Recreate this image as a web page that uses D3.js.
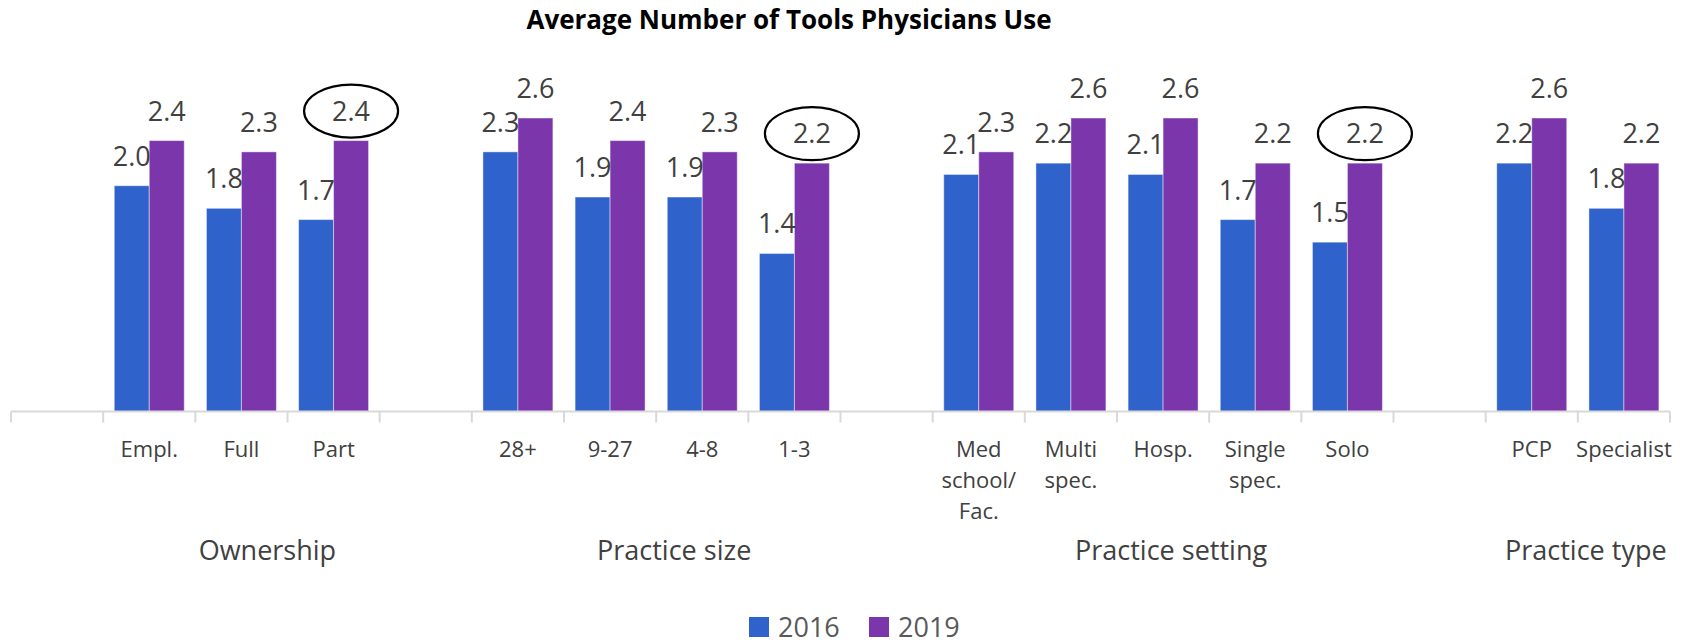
<!DOCTYPE html>
<html>
<head>
<meta charset="utf-8">
<script src="https://cdn.jsdelivr.net/npm/d3@7"></script>
<style>
  html, body { margin: 0; padding: 0; background: #fff; }
  svg { display: block; }
  text { font-family: "Open Sans", "Noto Sans", sans-serif; }
</style>
</head>
<body>
<svg id="chart" width="1693" height="644"></svg>
<script>
// ---- data ----
const title = "Average Number of Tools Physicians Use";
const categories = ["Empl.", "Full", "Part", "28+", "9-27", "4-8", "1-3",
  "Med school/ Fac.", "Multi spec.", "Hosp.", "Single spec.", "Solo", "PCP", "Specialist"];
const categoryLines = [["Empl."], ["Full"], ["Part"], ["28+"], ["9-27"], ["4-8"], ["1-3"],
  ["Med", "school/", "Fac."], ["Multi", "spec."], ["Hosp."], ["Single", "spec."], ["Solo"], ["PCP"], ["Specialist"]];
const groupNames = ["Ownership", "Practice size", "Practice setting", "Practice type"];
const categoryGroup = [0, 0, 0, 1, 1, 1, 1, 2, 2, 2, 2, 2, 3, 3];
const seriesNames = ["2016", "2019"];
const values2016 = [2.0, 1.8, 1.7, 2.3, 1.9, 1.9, 1.4, 2.1, 2.2, 2.1, 1.7, 1.5, 2.2, 1.8];
const values2019 = [2.4, 2.3, 2.4, 2.6, 2.4, 2.3, 2.2, 2.3, 2.6, 2.6, 2.2, 2.2, 2.6, 2.2];
const circled2019 = ["Part", "1-3", "Solo"];

// ---- layout ----
const colors = { "2016": "#2f62ca", "2019": "#7a36aa" };
const textColor = "#404040";
const axisLeft = 11, axisRight = 1670, axisY = 411.5, yTop = 118;
const groupNudge = [26, 18, 8, 8];

// slots: a blank spacer before each group
const slots = [];
categories.forEach((c, i) => {
  if (i === 0 || categoryGroup[i] !== categoryGroup[i - 1]) slots.push("__gap" + categoryGroup[i]);
  slots.push(c);
});

const svg = d3.select("#chart");

const x = d3.scaleBand().domain(slots).range([axisLeft, axisRight]).padding(0);
const xs = d3.scaleBand().domain(seriesNames).range([0, x.bandwidth()])
  .paddingInner(0).paddingOuter(0.317);
const y = d3.scaleLinear().domain([0, 2.6]).range([axisY, yTop]);

// title
svg.append("text")
  .attr("x", 789).attr("y", 29)
  .attr("text-anchor", "middle")
  .attr("font-weight", "bold")
  .attr("font-size", 26)
  .attr("fill", "#000")
  .text(title);

// bars
const rows = categories.map((c, i) => ({ cat: c, vals: [
  { s: "2016", v: values2016[i] }, { s: "2019", v: values2019[i] }] }));

const g = svg.append("g");
const catG = g.selectAll("g.cat").data(rows).join("g")
  .attr("class", "cat")
  .attr("transform", d => `translate(${x(d.cat)},0)`);

catG.selectAll("rect").data(d => d.vals).join("rect")
  .attr("x", d => xs(d.s))
  .attr("y", d => y(d.v))
  .attr("width", xs.bandwidth())
  .attr("height", d => axisY - y(d.v))
  .attr("fill", d => colors[d.s])
  .attr("stroke", "rgba(255,255,255,0.45)")
  .attr("stroke-width", 1);

catG.selectAll("text.val").data(d => d.vals).join("text")
  .attr("class", "val")
  .attr("x", d => xs(d.s) + xs.bandwidth() / 2)
  .attr("y", d => y(d.v) - 20)
  .attr("text-anchor", "middle")
  .attr("font-size", 27)
  .attr("fill", textColor)
  .text(d => d.v.toFixed(1));

// ellipses around highlighted 2019 labels
rows.filter(d => circled2019.includes(d.cat)).forEach(d => {
  const cx = x(d.cat) + xs("2019") + xs.bandwidth() / 2;
  const cy = y(d.vals[1].v) - 20 - 9.5;
  svg.append("ellipse")
    .attr("cx", cx).attr("cy", cy)
    .attr("rx", 47).attr("ry", 26.5)
    .attr("fill", "none").attr("stroke", "#000").attr("stroke-width", 2.2);
});

// axis line + ticks at slot boundaries
const axisG = svg.append("g");
axisG.append("line")
  .attr("x1", axisLeft).attr("x2", axisRight)
  .attr("y1", axisY).attr("y2", axisY)
  .attr("stroke", "#d9d9d9").attr("stroke-width", 2);
const tickXs = slots.map(s => x(s)).concat([x(slots[slots.length - 1]) + x.bandwidth()]);
axisG.selectAll("line.tick").data(tickXs).join("line")
  .attr("class", "tick")
  .attr("x1", d => d).attr("x2", d => d)
  .attr("y1", axisY).attr("y2", axisY + 11)
  .attr("stroke", "#d9d9d9").attr("stroke-width", 2);

// category labels
const labG = svg.selectAll("text.cat").data(categories).join("text")
  .attr("class", "cat")
  .attr("text-anchor", "middle")
  .attr("font-size", 22)
  .attr("fill", textColor)
  .attr("transform", d => `translate(${x(d) + x.bandwidth() / 2},457)`);
labG.selectAll("tspan").data((d, i) => categoryLines[i]).join("tspan")
  .attr("x", 0)
  .attr("dy", (d, i) => i === 0 ? 0 : 31)
  .text(d => d);

// group labels
groupNames.forEach((gname, gi) => {
  const cats = categories.filter((c, i) => categoryGroup[i] === gi);
  const x0 = x(cats[0]);
  const x1 = x(cats[cats.length - 1]) + x.bandwidth();
  svg.append("text")
    .attr("x", (x0 + x1) / 2 + groupNudge[gi])
    .attr("y", 560)
    .attr("text-anchor", "middle")
    .attr("font-size", 27)
    .attr("fill", textColor)
    .text(gname);
});

// legend
const legend = svg.append("g").attr("transform", "translate(749,617)");
const legX = d3.scaleOrdinal().domain(seriesNames).range([0, 120]);
const li = legend.selectAll("g").data(seriesNames).join("g")
  .attr("transform", d => `translate(${legX(d)},0)`);
li.append("rect").attr("width", 20).attr("height", 20)
  .attr("fill", d => colors[d]);
li.append("text").attr("x", 29).attr("y", 19.5)
  .attr("font-size", 27).attr("fill", "#595959")
  .text(d => d);
</script>
</body>
</html>
